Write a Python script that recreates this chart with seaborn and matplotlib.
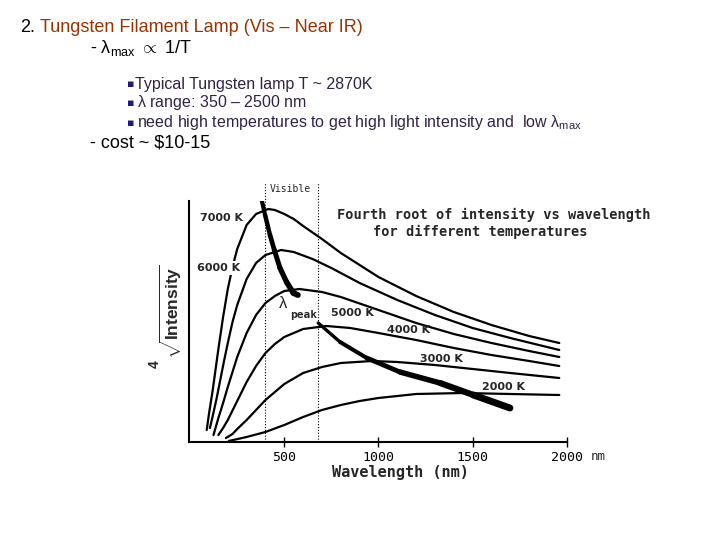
import numpy as np
import pandas as pd
import matplotlib
matplotlib.use("Agg")
import matplotlib.pyplot as plt
import seaborn as sns

# fourth root of intensity (arbitrary units), per temperature
temps = ["7000 K", "6000 K", "5000 K", "4000 K", "3000 K", "2000 K"]

wl_7000 = [88, 100, 120, 150, 175, 200, 225, 250, 300, 350, 414, 450, 500, 550, 600, 700, 800, 900,
           1000, 1200, 1400, 1600, 1800, 1960]
i_7000 = [12, 28, 52, 93, 125, 153, 175, 193, 217, 228, 233, 232, 228, 223, 216, 203, 189, 177,
          165, 146, 130, 117, 106, 99]

wl_6000 = [105, 120, 140, 160, 180, 200, 225, 250, 300, 350, 400, 483, 550, 650, 750, 900, 1100,
           1300, 1500, 1700, 1960]
i_6000 = [14, 26, 43, 62, 81, 99, 120, 137, 163, 179, 187, 192, 190, 183, 174, 159, 142,
          127, 114, 104, 92]

wl_5000 = [124, 150, 175, 200, 225, 250, 300, 350, 400, 450, 500, 580, 700, 800, 1000, 1200, 1400,
           1600, 1800, 1960]
i_5000 = [7, 24, 39, 55, 70, 85, 109, 127, 139, 146, 151, 153, 150, 145, 132, 119, 108,
          99, 91, 85]

wl_4000 = [150, 175, 200, 250, 300, 350, 400, 450, 500, 600, 724, 850, 1000, 1200, 1400, 1600, 1800, 1960]
i_4000 = [7, 14, 22, 41, 60, 76, 89, 98, 105, 113, 116, 114, 109, 102, 94, 87, 81, 76]

wl_3000 = [190, 225, 250, 300, 350, 400, 500, 600, 700, 800, 966, 1100, 1300, 1500, 1700, 1960]
i_3000 = [4, 8, 13, 22, 32, 42, 58, 69, 75, 79, 81, 80, 77, 73, 69, 64]

wl_2000 = [205, 300, 400, 500, 600, 700, 800, 900, 1000, 1200, 1450, 1700, 1960]
i_2000 = [1, 5, 10, 17, 25, 32, 37, 41, 44, 48, 49, 48, 47]

# lambda_peak trace (two pieces)
peak1_wl = [368, 398, 424, 447, 477, 512, 548, 572]
peak1_i = [252, 227, 207, 192, 174, 160, 149, 147]
peak2_wl = [680, 796, 938, 1114, 1327, 1504, 1698]
peak2_i = [119, 100, 84, 70, 59, 47, 34]

visible_edges = [395, 680]
xticks = [500, 1000, 1500, 2000]

sns.set_theme(style="white")
plt.rcParams['font.family'] = ['Liberation Sans', 'DejaVu Sans']
plt.rcParams['mathtext.fontset'] = 'custom'
plt.rcParams['mathtext.rm'] = 'Liberation Sans'
plt.rcParams['mathtext.it'] = 'Liberation Sans:italic'
plt.rcParams['mathtext.bf'] = 'Liberation Sans:bold'

MONO = 'DejaVu Sans Mono'

fig = plt.figure(figsize=(7.2, 5.4), dpi=100)
fig.patch.set_facecolor('white')
ax = fig.add_axes([189 / 720, 98 / 540, 378 / 720, 241 / 540])

curves = {"7000 K": (wl_7000, i_7000), "6000 K": (wl_6000, i_6000), "5000 K": (wl_5000, i_5000),
          "4000 K": (wl_4000, i_4000), "3000 K": (wl_3000, i_3000), "2000 K": (wl_2000, i_2000)}
df = pd.concat([pd.DataFrame({'wavelength': w, 'intensity': v, 'temp': t})
                for t, (w, v) in curves.items()], ignore_index=True)

sns.lineplot(data=df, x='wavelength', y='intensity', hue='temp', hue_order=temps,
             palette=['black'] * len(temps), legend=False, linewidth=1.6,
             estimator=None, ax=ax)

def thick_trace(w, v, lw0, lw1):
    widths = np.linspace(lw0, lw1, len(w) - 1)
    for k in range(len(w) - 1):
        ax.plot(w[k:k + 2], v[k:k + 2], color='black', lw=widths[k],
                solid_capstyle='round', zorder=4)

thick_trace(peak1_wl, peak1_i, 3.0, 4.2)
thick_trace(peak2_wl, peak2_i, 2.4, 5.0)

for xv in visible_edges:
    ax.axvline(xv, ymin=0, ymax=259 / 241, color='black', lw=0.8,
               ls=(0, (1, 1.6)), clip_on=False, zorder=1)

ax.set_xlim(-6, 2001)
ax.set_ylim(0, 241)
ax.set_xticks(xticks)
ax.set_yticks([])
ax.set_xlabel('')
ax.set_ylabel('')
ax.tick_params(axis='x', direction='inout', length=7, width=1, pad=3,
               labelsize=9.5, colors='black', bottom=True)
for lbl in ax.get_xticklabels():
    lbl.set_fontfamily(MONO)
for side in ['top', 'right']:
    ax.spines[side].set_visible(False)
for side in ['left', 'bottom']:
    ax.spines[side].set_color('black')
    ax.spines[side].set_linewidth(1.5)

# curve labels
lab_kw = dict(fontsize=8, fontweight='bold', ha='center', va='center', fontfamily='DejaVu Sans')
ax.text(164, 224, "7000 K", **lab_kw)
ax.text(153, 174, "6000 K", bbox=dict(facecolor='white', edgecolor='none', pad=1.5), zorder=5, **lab_kw)
ax.text(862, 129, "5000 K", **lab_kw)
ax.text(1159, 112, "4000 K", **lab_kw)
ax.text(1335, 83, "3000 K", **lab_kw)
ax.text(1664, 55, "2000 K", **lab_kw)

ax.text(496, 139, r'$\mathrm{\lambda}$', fontsize=12, fontweight='bold', ha='center', va='center')
ax.text(602, 127, 'peak', fontsize=8, fontweight='bold', fontfamily=MONO, ha='center', va='center')
ax.text(534, 253, 'Visible', fontsize=7, fontfamily=MONO, ha='center', va='center', clip_on=False)

ax.text(1610, 227, 'Fourth root of intensity vs wavelength', fontsize=9.8, fontweight='bold',
        fontfamily=MONO, ha='center', va='center')
ax.text(1540, 210, 'for different temperatures', fontsize=9.8, fontweight='bold',
        fontfamily=MONO, ha='center', va='center')

ax.text(2125, -14, 'nm', fontsize=9, fontfamily=MONO, ha='left', va='center', clip_on=False)
ax.text(1114, -30, 'Wavelength (nm)', fontsize=11, fontweight='bold', fontfamily=MONO,
        ha='center', va='center', clip_on=False)
ax.text(-100, 130, r'$\sqrt{\mathbf{Intensity}}$', fontsize=12.5, rotation=90,
        ha='center', va='center', clip_on=False)
ax.text(-186, 78, '4', fontsize=10, fontweight='bold', rotation=90,
        ha='center', va='center', clip_on=False)

# slide text
def ftext(x, y, s, **kw):
    fig.text(x / 720, 1 - y / 540, s, va='center', ha='left', **kw)

brown = '#993300'
purple = '#332244'
navy = '#1a1a80'

ftext(20, 27, '2.', fontsize=13, color='black')
ftext(40, 27, 'Tungsten Filament Lamp (Vis – Near IR)', fontsize=13, color=brown)
ftext(90, 48, r'- $\mathrm{\lambda}_{\mathrm{max}}$ $\propto$ 1/T', fontsize=13, color='black')
ftext(127, 84, '▪', fontsize=8, color=navy, fontfamily='DejaVu Sans')
ftext(135, 84, 'Typical Tungsten lamp T ~ 2870K', fontsize=11.5, color=purple)
ftext(127, 103, '▪', fontsize=8, color=navy, fontfamily='DejaVu Sans')
ftext(137, 103, r'$\mathrm{\lambda}$ range: 350 – 2500 nm', fontsize=11.5, color=purple)
ftext(127, 123, '▪', fontsize=8, color=navy, fontfamily='DejaVu Sans')
ftext(137, 123, r'need high temperatures to get high light intensity and  low $\mathrm{\lambda}_{\mathrm{max}}$',
      fontsize=11.5, color=purple)
ftext(90, 143, '- cost ~ $10-15', fontsize=13, color='black')

fig.savefig('out.png', dpi=100, facecolor='white')
